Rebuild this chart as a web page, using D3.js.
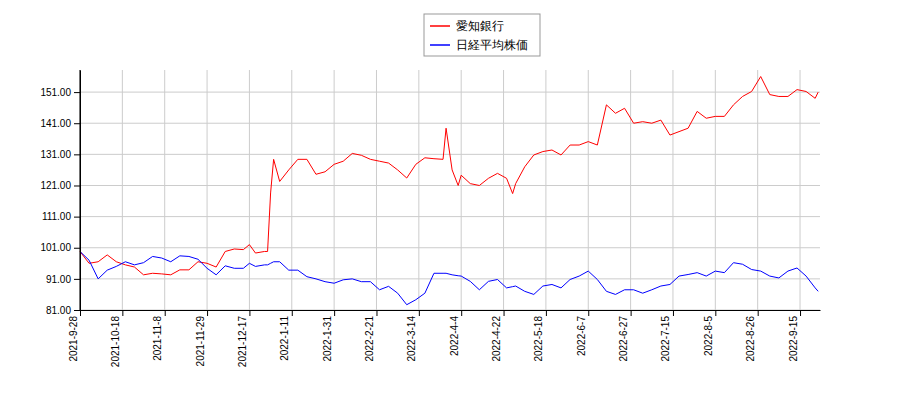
<!DOCTYPE html>
<html><head><meta charset="utf-8">
<script src="https://cdn.jsdelivr.net/npm/d3@7"></script>
<style>body{margin:0;background:#fff;font-family:"DejaVu Sans",sans-serif}</style>
</head><body><div id="chart"></div>
<script>
// trading-day index of each reading
const idx = [0,3,6,9,12,15,18,21,24,27,30,33,36,39,42,45,48,51,54,56,58,61,62,63,64,66,69,72,75,78,81,84,87,90,93,96,99,102,105,108,111,114,117,120,121,123,125,126,129,132,135,138,141,143,144,147,150,153,156,159,162,165,168,171,174,177,180,183,186,189,192,195,198,201,204,207,210,213,216,219,222,225,228,231,234,237,240,243,244];
const aichi = [99.8,96,96.5,98.7,96.5,95.5,94.8,92.3,92.8,92.6,92.3,93.9,93.9,96.5,96,94.8,99.8,100.6,100.4,102,99.3,99.8,99.8,118.6,129.4,122.3,126,129.4,129.4,124.6,125.4,127.8,128.8,131.3,130.7,129.4,128.8,128.2,126,123.4,127.8,129.9,129.6,129.4,139.4,126,121,124.3,121.6,121,123.3,124.9,123.3,118.4,121.6,127,130.8,131.9,132.4,130.8,134,134,135.1,134,146.9,144.2,145.8,141,141.5,141,142,137.2,138.3,139.4,144.8,142.6,143.2,143.2,146.9,149.6,151.2,156,150.2,149.6,149.6,151.8,151.2,149,151];
const nikkei = [99.8,97,91,93.8,95,96.5,95.5,96.2,98.2,97.7,96.5,98.4,98.2,97.3,94.4,92.3,95.2,94.4,94.4,96,95,95.5,95.5,96,96.5,96.5,93.8,93.8,91.7,91,90.1,89.6,90.7,91,90.1,90.1,87.5,88.6,86.4,82.7,84.3,86.4,92.8,92.8,92.8,92.3,92,91.9,90.2,87.5,90.2,90.8,88.1,88.5,88.7,87,86,88.7,89.2,88.1,90.8,91.9,93.5,90.8,87,86,87.5,87.5,86.4,87.5,88.7,89.2,91.9,92.4,93,91.9,93.5,93,96.2,95.7,94,93.5,91.9,91.3,93.5,94.5,91.9,88.1,87];
const tickIdx = [0,14,28,42,56,70,84,98,112,126,140,154,168,182,196,210,224,238];
const tickLabels = ['2021-9-28','2021-10-18','2021-11-8','2021-11-29','2021-12-17','2022-1-11','2022-1-31','2022-2-21','2022-3-14','2022-4-4','2022-4-22','2022-5-18','2022-6-7','2022-6-27','2022-7-15','2022-8-5','2022-8-26','2022-9-15'];
const yTicks = [81,91,101,111,121,131,141,151];
const series = [{name:'愛知銀行', color:'#ff0000', values:aichi},{name:'日経平均株価', color:'#0000ff', values:nikkei}];

const margin = {top:70, right:80, bottom:90, left:80};
const width = 900 - margin.left - margin.right;
const height = 400 - margin.top - margin.bottom;

const svg = d3.select('#chart').append('svg').attr('width',900).attr('height',400)
  .style('font-family','"DejaVu Sans",sans-serif');
const g = svg.append('g').attr('transform',`translate(${margin.left},${margin.top})`);

const x = d3.scaleLinear().domain([0,244.6]).range([0,width]);
const y = d3.scaleLinear().domain([81,158.1]).range([height,0]);

// grid
g.selectAll('.vg').data(tickIdx).enter().append('line')
  .attr('x1',d=>x(d)).attr('x2',d=>x(d)).attr('y1',0).attr('y2',height)
  .attr('stroke','#cccccc');
g.selectAll('.hg').data(yTicks).enter().append('line')
  .attr('x1',0).attr('x2',width).attr('y1',d=>y(d)).attr('y2',d=>y(d))
  .attr('stroke','#cccccc');

// lines
const line = d3.line().x((d,i)=>x(idx[i])).y(d=>y(d));
series.forEach(s=>{
  g.append('path').datum(s.values).attr('fill','none').attr('stroke',s.color)
    .attr('stroke-width',1).attr('d',line);
});

// axes
const xAxis = g.append('g').attr('transform',`translate(0,${height})`)
  .call(d3.axisBottom(x).tickValues(tickIdx).tickFormat((d,i)=>tickLabels[i]).tickSizeOuter(0));
xAxis.selectAll('text').attr('transform','rotate(-90)').attr('text-anchor','end')
  .attr('x',-6).attr('y',-4).attr('dy','0').style('font-size','10px').attr('fill','#000');
const yAxis = g.append('g')
  .call(d3.axisLeft(y).tickValues(yTicks).tickFormat(d3.format('.2f')).tickSizeOuter(0));
yAxis.selectAll('text').style('font-size','10px').attr('fill','#000');
g.append('line').attr('x1',0).attr('x2',0).attr('y1',0).attr('y2',height).attr('stroke','#000');

// legend
const lg = svg.append('g').attr('transform','translate(424,14)');
lg.append('rect').attr('width',116).attr('height',42).attr('fill','#fff').attr('stroke','#999');
series.forEach((s,i)=>{
  lg.append('line').attr('x1',6).attr('x2',26).attr('y1',12+i*19).attr('y2',12+i*19)
    .attr('stroke',s.color).attr('stroke-width',1.5);
  lg.append('text').attr('x',32).attr('y',16+i*19).text(s.name).style('font-size','12px');
});
</script></body></html>
